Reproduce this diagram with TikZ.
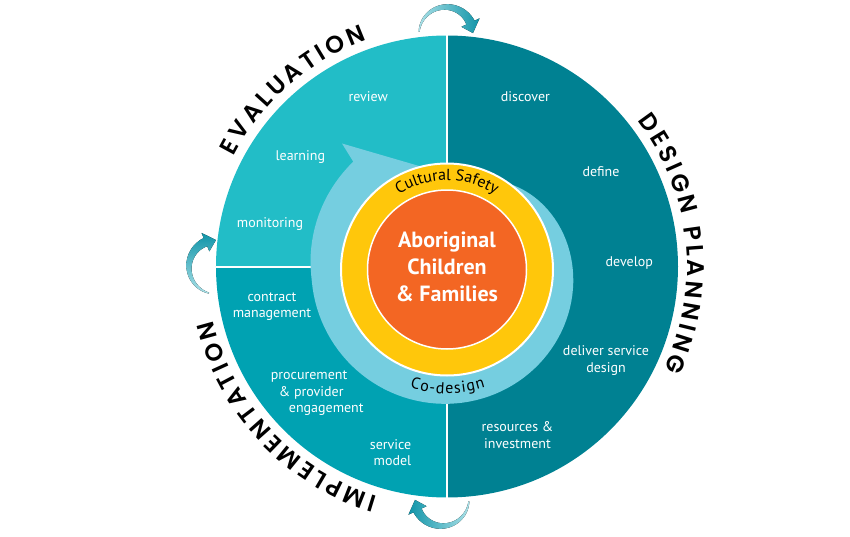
\documentclass[tikz,border=0pt]{standalone}
\usepackage{fontspec}
\usepackage{tikz}
\usetikzlibrary{decorations.text}
\newfontfamily\labelfont{PT Sans}
\newfontfamily\titlefont[UprightFont=* SemiBold]{Poppins}
\definecolor{cyeval}{RGB}{34,189,199}
\definecolor{cyimpl}{RGB}{0,162,178}
\definecolor{cydesign}{RGB}{0,129,146}
\definecolor{cyring}{RGB}{117,206,224}
\definecolor{cyyellow}{RGB}{255,199,11}
\definecolor{cyorange}{RGB}{243,102,35}
\definecolor{cyarrowlight}{RGB}{170,225,232}
\definecolor{cyarrowdark}{RGB}{16,148,168}
\tikzstyle{phase} = [text=white, font=\labelfont\fontsize{14}{16.7}\selectfont, align=center, inner sep=0pt]
\tikzstyle{divider} = [white, line width=2pt]
\protected\def\titlestyle{\titlefont\fontsize{24}{28}\selectfont\kern3.5pt}
\protected\def\ringstyle{\labelfont\fontsize{16}{18}\selectfont}
% curved arrow between two phases: centre, tail angle, head angle, shading
\newcommand{\turnarrow}[4]{%
  \begin{scope}[shift={(#1)}]
    \fill[#4] plot[domain=0:1, samples=30, variable=\q] ({#2+((#3)-(#2))*\q}:{27.5+4*\q})
      -- (#3:37) -- ({#3-23}:27) -- (#3:17)
      -- plot[domain=1:0, samples=30, variable=\q] ({#2+((#3)-(#2))*\q}:{26.5-4*\q}) -- cycle;
  \end{scope}}

\begin{document}
\begin{tikzpicture}[x=1pt,y=1pt]
\useasboundingbox (-447,-269.5) rectangle (403,266.5);

% Phases
\fill[cyeval] (0,0) -- (180:231) arc[start angle=180, end angle=90, radius=231pt] -- cycle;
\fill[cyimpl] (0,0) -- (180:231) arc[start angle=180, end angle=270, radius=231pt] -- cycle;
\fill[cydesign] (0,0) -- (90:231) arc[start angle=90, end angle=-90, radius=231pt] -- cycle;
\draw[divider] (0,231) -- (0,-231);
\draw[divider] (-231,0) -- (0,0);

% Co-design arrow, safety ring and centre
\begin{scope}[shift={(0,-3)}]
\fill[cyring] plot[domain=0:283, samples=100, variable=\p] ({54-\p}:{106+30*(1-exp(-\p/50))+7*max(0,\p-230)/53})
  -- (129.8:164) -- (104:106) -- (80:40) -- cycle;
\path[fill=cyyellow, draw=white, line width=2pt] (0,0) circle[radius=106pt];
\path[fill=cyorange, draw=white, line width=1.5pt] (0,0) circle[radius=79.5pt];
\path[decorate, decoration={text along path, text align=center, text={|\ringstyle|Cultural Safety}}]
  (150:89) arc[start angle=150, end angle=30, radius=89pt];
\path[decorate, decoration={text along path, text align=center, text={|\ringstyle\kern1pt|Co-design}}]
  (225:124) arc[start angle=225, end angle=315, radius=124pt];
\end{scope}
\node[text=white, font=\labelfont\bfseries\fontsize{22}{26.7}\selectfont, align=center] (families) at (0,-0.5) {Aboriginal\\Children\\\& Families};

% Phase titles
\path[decorate, decoration={text along path, text align=center, text={|\titlestyle|EVALUATION}}]
  (175:240) arc[start angle=175, end angle=88, radius=240pt];
\path[decorate, decoration={text along path, text align=center, text={|\titlestyle|DESIGN PLANNING}}]
  (60:240) arc[start angle=60, end angle=-47, radius=240pt];
\path[decorate, decoration={text along path, text align=center, text={|\titlestyle|IMPLEMENTATION}}]
  (265:240) arc[start angle=265, end angle=182, radius=240pt];

% Steps
\node[phase] (review) at (-78.7,169.8) {review};
\node[phase] (learning) at (-146.7,109.8) {learning};
\node[phase] (monitoring) at (-177,42.2) {monitoring};
\node[phase] (discover) at (78.4,169.8) {discover};
\node[phase] (define) at (154,94.8) {define};
\node[phase] (develop) at (182.3,3.2) {develop};
\node[phase] (deliver) at (159,-94) {deliver service\\design};
\node[phase] (resources) at (70.5,-168.5) {resources \&\\investment};
\node[phase] (contract) at (-175,-40.2) {contract\\management};
\node[phase, anchor=west, align=left] (procurement) at (-176.3,-126.8) {procurement\\\hspace*{8pt}\& provider\\\hspace*{18pt}engagement};
\node[phase, anchor=east, align=right] (service) at (-35.5,-186.2) {service\\model};

% Turn arrows
\turnarrow{-1,232.5}{175}{25}{left color=cyarrowlight, right color=cyarrowdark}
\turnarrow{-231,-0.5}{255}{113}{bottom color=cyarrowlight, top color=cyarrowdark}
\turnarrow{-5,-232.5}{-5}{-155}{left color=cyarrowdark, right color=cyarrowlight}
\end{tikzpicture}
\end{document}
